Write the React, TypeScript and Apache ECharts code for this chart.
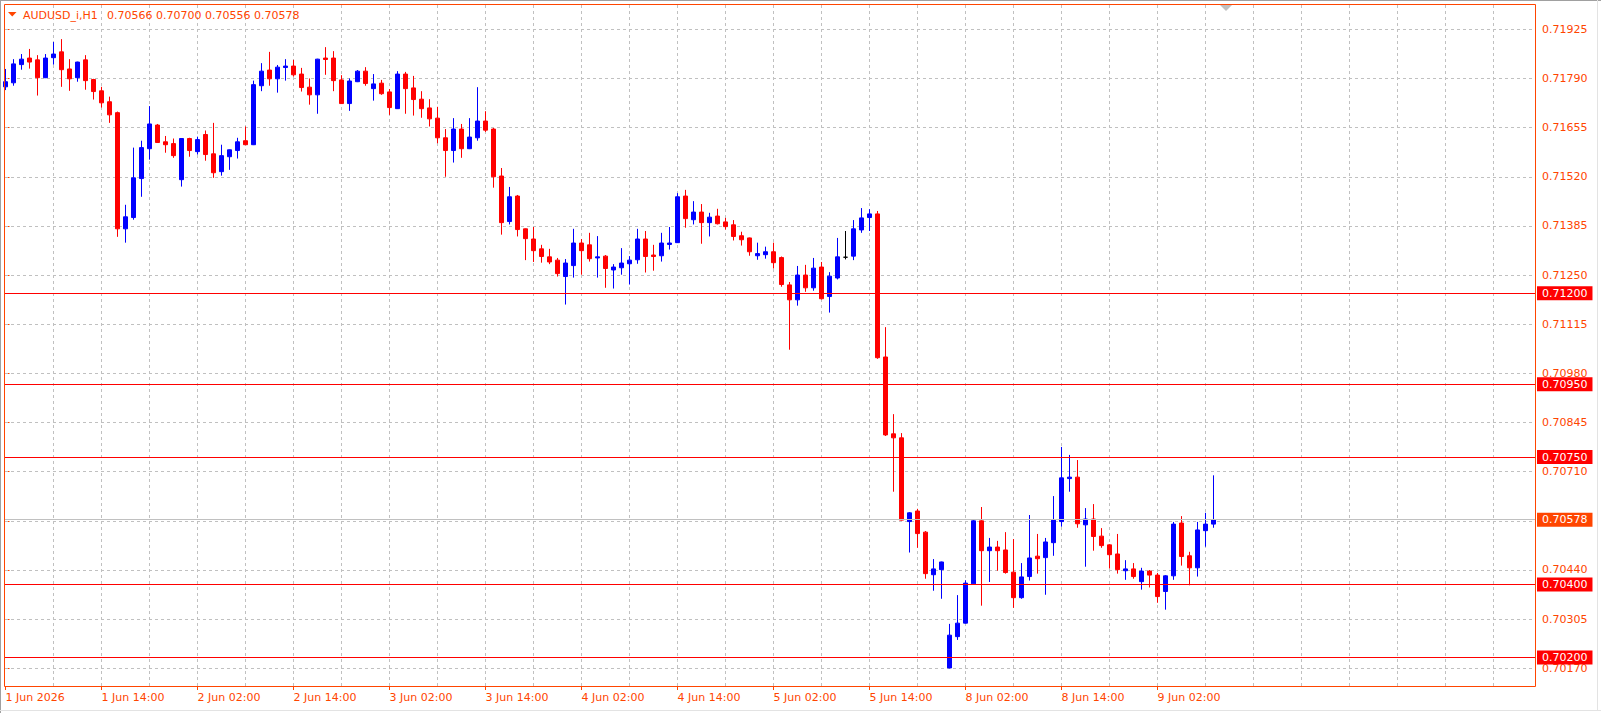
import React, { useEffect, useRef } from "react";
import * as echarts from "echarts";

const symbolName = "AUDUSD_i,H1";
const headerValues = ["0.70566", "0.70700", "0.70556", "0.70578"];

// H1 bars: [open, high, low, close], first bar is the one labelled "1 Jun 2026"
const ohlc: number[][] = [
  [0.71767, 0.71816, 0.71758, 0.71781],
  [0.71778, 0.71843, 0.7177, 0.7183],
  [0.71828, 0.71857, 0.71814, 0.71843],
  [0.71846, 0.71871, 0.71817, 0.71835],
  [0.71841, 0.71854, 0.71743, 0.71792],
  [0.71792, 0.71857, 0.71791, 0.71846],
  [0.71847, 0.7189, 0.71828, 0.71857],
  [0.71863, 0.71898, 0.71767, 0.71814],
  [0.71816, 0.71843, 0.71756, 0.71789],
  [0.71792, 0.71836, 0.71781, 0.71835],
  [0.71841, 0.71854, 0.71759, 0.71784],
  [0.71787, 0.71789, 0.71732, 0.71754],
  [0.71756, 0.71767, 0.7171, 0.71723],
  [0.71726, 0.7174, 0.71668, 0.7169],
  [0.71696, 0.71699, 0.71355, 0.71377],
  [0.71377, 0.71443, 0.71339, 0.7141],
  [0.71408, 0.716, 0.71402, 0.71517],
  [0.71515, 0.71619, 0.71465, 0.716],
  [0.71597, 0.71714, 0.71567, 0.71665],
  [0.71662, 0.71665, 0.71613, 0.71614],
  [0.71616, 0.71632, 0.71586, 0.71608],
  [0.71611, 0.71625, 0.71572, 0.71578],
  [0.71512, 0.71626, 0.71493, 0.71625],
  [0.71625, 0.71627, 0.71575, 0.71592],
  [0.71589, 0.7163, 0.71581, 0.71622],
  [0.71636, 0.71647, 0.71564, 0.71581],
  [0.71583, 0.71668, 0.71517, 0.71531],
  [0.71534, 0.71608, 0.71523, 0.71578],
  [0.71575, 0.71595, 0.71539, 0.71594],
  [0.71592, 0.71627, 0.7157, 0.71616],
  [0.71619, 0.71658, 0.71607, 0.71608],
  [0.71608, 0.71784, 0.71607, 0.71773],
  [0.7177, 0.71832, 0.71755, 0.7181],
  [0.71813, 0.71863, 0.7177, 0.71789],
  [0.71789, 0.71827, 0.71751, 0.71821],
  [0.7182, 0.71843, 0.71784, 0.71824],
  [0.71824, 0.71841, 0.71795, 0.718],
  [0.71802, 0.71819, 0.71754, 0.71765],
  [0.71766, 0.7179, 0.71718, 0.71745],
  [0.71745, 0.71844, 0.71693, 0.71843],
  [0.71846, 0.71876, 0.718, 0.71842],
  [0.71846, 0.71865, 0.71755, 0.71784],
  [0.71786, 0.71799, 0.7172, 0.71721],
  [0.71721, 0.7179, 0.71701, 0.71783],
  [0.71781, 0.71813, 0.7178, 0.7181],
  [0.7181, 0.71821, 0.7177, 0.71776],
  [0.71762, 0.71802, 0.71729, 0.71775],
  [0.71777, 0.71786, 0.71745, 0.71748],
  [0.71753, 0.71761, 0.7169, 0.7171],
  [0.71707, 0.7181, 0.71706, 0.71802],
  [0.71802, 0.71808, 0.71693, 0.71762],
  [0.71764, 0.71797, 0.71688, 0.71732],
  [0.71733, 0.71755, 0.71682, 0.71707],
  [0.71709, 0.71733, 0.71658, 0.71679],
  [0.71681, 0.71712, 0.71612, 0.71627],
  [0.71627, 0.71651, 0.7152, 0.71592],
  [0.71592, 0.71681, 0.71559, 0.71651],
  [0.71651, 0.71665, 0.71572, 0.71597],
  [0.71597, 0.71681, 0.71596, 0.71629],
  [0.71627, 0.71766, 0.71619, 0.71673],
  [0.71673, 0.717, 0.71643, 0.71648],
  [0.71651, 0.71654, 0.7149, 0.7152],
  [0.71522, 0.71544, 0.71361, 0.71394],
  [0.71397, 0.71492, 0.71389, 0.71465],
  [0.71467, 0.7147, 0.71356, 0.71375],
  [0.71377, 0.71378, 0.71291, 0.7135],
  [0.71349, 0.71382, 0.71286, 0.71317],
  [0.71322, 0.71333, 0.71284, 0.71301],
  [0.713, 0.71322, 0.7128, 0.71286],
  [0.71291, 0.71297, 0.71246, 0.71254],
  [0.71246, 0.71294, 0.71169, 0.71283],
  [0.71276, 0.71377, 0.71243, 0.71338],
  [0.71338, 0.71349, 0.71251, 0.71317],
  [0.71333, 0.71366, 0.71287, 0.71295],
  [0.71297, 0.71357, 0.71243, 0.713],
  [0.71302, 0.71305, 0.71215, 0.71268],
  [0.71264, 0.7128, 0.71213, 0.71272],
  [0.7127, 0.71324, 0.71251, 0.71283],
  [0.71281, 0.71302, 0.71224, 0.71291],
  [0.71292, 0.71377, 0.71281, 0.71349],
  [0.71349, 0.71371, 0.71257, 0.71301],
  [0.71305, 0.71333, 0.71262, 0.71301],
  [0.71303, 0.71366, 0.71287, 0.71338],
  [0.71334, 0.71382, 0.7132, 0.71338],
  [0.71339, 0.71475, 0.71338, 0.71465],
  [0.71467, 0.71484, 0.7138, 0.71405],
  [0.71402, 0.71453, 0.71389, 0.71423],
  [0.71423, 0.71445, 0.71336, 0.71394],
  [0.71394, 0.71421, 0.71356, 0.71409],
  [0.71412, 0.71432, 0.71389, 0.71391],
  [0.71396, 0.71407, 0.71375, 0.71383],
  [0.71388, 0.71401, 0.71345, 0.71356],
  [0.71358, 0.71369, 0.71331, 0.71347],
  [0.71352, 0.71353, 0.71303, 0.71314],
  [0.71303, 0.71339, 0.71292, 0.71309],
  [0.71306, 0.71328, 0.71295, 0.71314],
  [0.71314, 0.71339, 0.71268, 0.71284],
  [0.71298, 0.71301, 0.71218, 0.71224],
  [0.71223, 0.71231, 0.71045, 0.71182],
  [0.71182, 0.71275, 0.71166, 0.7125],
  [0.7125, 0.71278, 0.71204, 0.71215],
  [0.71215, 0.71297, 0.71207, 0.71269],
  [0.71272, 0.71286, 0.71183, 0.71185],
  [0.71191, 0.71258, 0.71147, 0.71247],
  [0.71242, 0.71352, 0.71238, 0.713],
  [0.71299, 0.71371, 0.71293, 0.71299],
  [0.71302, 0.71401, 0.71291, 0.71377],
  [0.71374, 0.71434, 0.71366, 0.71407],
  [0.71408, 0.71431, 0.71371, 0.71418],
  [0.71418, 0.71426, 0.7102, 0.71023],
  [0.71025, 0.71107, 0.70808, 0.70811],
  [0.70814, 0.70868, 0.70655, 0.70803],
  [0.70803, 0.70816, 0.70576, 0.70577],
  [0.70573, 0.70599, 0.70488, 0.70597],
  [0.70602, 0.70608, 0.70501, 0.7054],
  [0.70544, 0.70547, 0.70416, 0.7043],
  [0.70427, 0.7047, 0.70383, 0.70443],
  [0.70441, 0.70463, 0.70361, 0.70462],
  [0.70171, 0.70292, 0.7017, 0.70261],
  [0.70257, 0.70371, 0.70248, 0.70294],
  [0.70294, 0.70412, 0.70293, 0.70404],
  [0.70402, 0.7058, 0.70401, 0.70575],
  [0.70575, 0.70613, 0.70342, 0.70493],
  [0.70493, 0.70528, 0.70407, 0.70503],
  [0.70503, 0.7052, 0.70438, 0.70493],
  [0.70495, 0.70544, 0.7043, 0.70433],
  [0.70434, 0.70525, 0.70336, 0.70364],
  [0.70364, 0.70459, 0.70361, 0.70421],
  [0.70422, 0.70591, 0.70411, 0.70473],
  [0.70478, 0.70539, 0.7043, 0.70471],
  [0.70474, 0.70528, 0.70372, 0.70517],
  [0.70515, 0.70643, 0.70479, 0.70577],
  [0.70573, 0.70778, 0.70559, 0.70693],
  [0.70691, 0.70756, 0.70655, 0.70695],
  [0.70695, 0.70742, 0.70556, 0.70567],
  [0.70564, 0.7061, 0.70449, 0.7058],
  [0.7058, 0.70621, 0.70493, 0.70532],
  [0.70533, 0.70555, 0.70501, 0.70507],
  [0.70509, 0.70511, 0.70444, 0.70482],
  [0.70484, 0.70539, 0.7043, 0.70441],
  [0.70438, 0.70467, 0.70413, 0.70443],
  [0.70443, 0.70459, 0.70416, 0.70422],
  [0.70408, 0.70446, 0.70386, 0.70437],
  [0.70437, 0.7044, 0.70392, 0.70426],
  [0.70426, 0.70432, 0.7035, 0.70367],
  [0.70381, 0.70426, 0.70331, 0.70424],
  [0.70424, 0.70572, 0.70413, 0.70566],
  [0.70569, 0.70588, 0.70452, 0.70477],
  [0.70479, 0.7049, 0.70398, 0.70446],
  [0.70446, 0.70572, 0.70422, 0.7055],
  [0.70548, 0.70597, 0.70504, 0.70566],
  [0.70566, 0.707, 0.70556, 0.70578],
];

const xTickBars = [0, 12, 24, 36, 48, 60, 72, 84, 96, 108, 120, 132, 144];
const xTickLabels = [
  "1 Jun 2026", "1 Jun 14:00", "2 Jun 02:00", "2 Jun 14:00", "3 Jun 02:00",
  "3 Jun 14:00", "4 Jun 02:00", "4 Jun 14:00", "5 Jun 02:00", "5 Jun 14:00",
  "8 Jun 02:00", "8 Jun 14:00", "9 Jun 02:00",
];
const xGridBars = [
  6, 12, 18, 24, 30, 36, 42, 48, 54, 60, 66, 72, 78, 84, 90, 96, 102, 108, 114, 120,
  126, 132, 138, 144, 150, 156, 162, 168, 174, 180, 186,
];
const yTicks = [
  0.7017, 0.70305, 0.7044, 0.70575, 0.7071, 0.70845, 0.7098, 0.71115, 0.7125,
  0.71385, 0.7152, 0.71655, 0.7179, 0.71925,
];
const levelLines = [0.712, 0.7095, 0.7075, 0.704, 0.702];
const currentPrice = 0.70578;

const ORANGE = "#ff4500";
const FONT = '"DejaVu Sans", Verdana, sans-serif';

export default function App() {
  const ref = useRef<HTMLDivElement>(null);
  useEffect(() => {
    document.body.style.margin = "0";
    const chart = echarts.init(ref.current!, undefined, { renderer: "svg" });
    const candleData = ohlc.map((d, i) => [i, d[0], d[3], d[2], d[1]]);
    const priceLabel = (bg: string, text: string) => ({
      show: true,
      position: "end",
      distance: 2,
      formatter: text,
      color: "#ffffff",
      backgroundColor: bg,
      padding: [1, 5, 1, 5],
      lineHeight: 12,
      fontFamily: FONT,
      fontSize: 11,
    });
    const option: any = {
      animation: false,
      backgroundColor: "#ffffff",
      grid: { left: 5, top: 5, right: 66, bottom: 27, show: false, outerBoundsMode: "none", containLabel: false },
      xAxis: [
        {
          type: "value",
          min: -0.0625,
          max: 191.1875,
          position: "bottom",
          axisLine: { show: false },
          splitLine: { show: false },
          axisTick: { show: true, customValues: xTickBars, length: 4, lineStyle: { color: ORANGE } },
          axisLabel: {
            customValues: xTickBars,
            formatter: (v: number) => xTickLabels[xTickBars.indexOf(Math.round(v))] ?? "",
            color: ORANGE,
            fontFamily: FONT,
            fontSize: 11,
            align: "left",
            margin: 6,
          },
        },
      ],
      yAxis: [
        {
          type: "value",
          position: "right",
          min: 0.701214,
          max: 0.719917,
          axisLine: { show: false },
          splitLine: { show: false },
          axisTick: { show: true, customValues: yTicks, length: 4, lineStyle: { color: ORANGE } },
          axisLabel: {
            customValues: yTicks,
            formatter: (v: number) => v.toFixed(5),
            color: ORANGE,
            fontFamily: FONT,
            fontSize: 11,
            margin: 7,
          },
        },
      ],
      series: [
        {
          type: "line",
          data: [],
          z: 1,
          silent: true,
          markLine: {
            z: 1,
            silent: true,
            precision: 6,
            symbol: ["none", "none"],
            animation: false,
            label: { show: false },
            lineStyle: { color: "#c0c0c0", width: 1, type: [3, 3] },
            emphasis: { disabled: true },
            data: [
              ...xGridBars.map((v) => ({ xAxis: v })),
              ...yTicks.map((v) => ({ yAxis: v })),
            ],
          },
        },
        {
          type: "candlestick",
          data: candleData,
          z: 2,
          barWidth: 4,
          clip: true,
          silent: true,
          itemStyle: {
            color: "#0000ff",
            color0: "#ff0000",
            borderColor: "#0000ff",
            borderColor0: "#ff0000",
            borderColorDoji: "#000000",
            borderWidth: 1,
          },
        },
        {
          type: "line",
          data: [],
          z: 5,
          silent: true,
          markLine: {
            z: 5,
            silent: true,
            precision: 6,
            symbol: ["none", "none"],
            animation: false,
            emphasis: { disabled: true },
            data: [
              {
                yAxis: currentPrice,
                lineStyle: { color: "#c0c0c0", width: 1, type: "solid" },
                label: priceLabel(ORANGE, currentPrice.toFixed(5)),
              },
              ...levelLines.map((v) => ({
                yAxis: v,
                lineStyle: { color: "#ff0000", width: 1, type: "solid" },
                label: priceLabel("#ff0000", v.toFixed(5)),
              })),
            ],
          },
        },
      ],
      graphic: [
        { type: "line", silent: true, shape: { x1: 0, y1: 0.5, x2: 1601, y2: 0.5 }, style: { stroke: "#a0a0a0", lineWidth: 1 } },
        { type: "line", silent: true, shape: { x1: 0.5, y1: 0, x2: 0.5, y2: 713 }, style: { stroke: "#a0a0a0", lineWidth: 1 } },
        { type: "line", silent: true, shape: { x1: 0, y1: 710.5, x2: 1601, y2: 710.5 }, style: { stroke: "#e3e3e3", lineWidth: 1 } },
        { type: "line", silent: true, shape: { x1: 1597.5, y1: 0, x2: 1597.5, y2: 711 }, style: { stroke: "#e3e3e3", lineWidth: 1 } },
        {
          type: "rect",
          silent: true,
          z: 10,
          shape: { x: 4.5, y: 4.5, width: 1531, height: 682 },
          style: { fill: "none", stroke: ORANGE, lineWidth: 1 },
        },
        {
          type: "polygon",
          silent: true,
          z: 10,
          shape: { points: [[8, 12], [16.5, 12], [12.25, 16.5]] },
          style: { fill: ORANGE },
        },
        {
          type: "text",
          silent: true,
          z: 10,
          x: 23,
          y: 15,
          style: { text: symbolName, fill: ORANGE, font: `11px ${FONT}`, verticalAlign: "middle" },
        },
        {
          type: "text",
          silent: true,
          z: 10,
          x: 107,
          y: 15,
          style: { text: headerValues.join(" "), fill: ORANGE, font: `11px ${FONT}`, verticalAlign: "middle" },
        },
        {
          type: "polygon",
          silent: true,
          z: 10,
          shape: { points: [[1220, 5], [1232, 5], [1226, 11]] },
          style: { fill: "#c0c0c0" },
        },
      ],
    };
    chart.setOption(option);
    return () => chart.dispose();
  }, []);
  return <div ref={ref} style={{ width: 1601, height: 713 }} />;
}
